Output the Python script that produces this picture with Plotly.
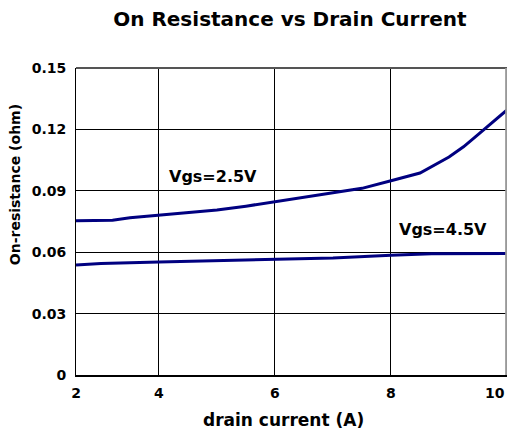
import plotly.graph_objects as go

# axis (the chart's left edge is labelled "2")
x_left = 2.57
x_ticks = [x_left, 4, 6, 8, 10]
x_tick_labels = ["2", "4", "6", "8", "10"]
y_ticks = [0, 0.03, 0.06, 0.09, 0.12, 0.15]
y_tick_labels = ["0", "0.03", "0.06", "0.09", "0.12", "0.15"]

# Vgs = 2.5 V
i_25 = [x_left, 3.2, 3.5, 4.0, 4.5, 5.0, 5.5, 6.0, 6.5, 7.0, 7.5, 8.0, 8.5, 9.0, 9.25, 9.5, 9.75, 10.0]
r_25 = [0.0754, 0.0756, 0.0768, 0.0780, 0.0792, 0.0806, 0.0825, 0.0847, 0.0866, 0.0889, 0.0912, 0.0949, 0.0987, 0.1065, 0.1115, 0.1175, 0.1235, 0.1295]

# Vgs = 4.5 V
i_45 = [x_left, 3.0, 4.0, 5.0, 6.0, 7.0, 8.0, 8.7, 10.0]
r_45 = [0.0537, 0.0545, 0.0552, 0.0558, 0.0565, 0.0572, 0.0585, 0.0592, 0.0594]

labels = ["Vgs=2.5V", "Vgs=4.5V"]
label_x = [4.93, 8.9]
label_y = [0.0972, 0.0711]

NAVY = "#000080"
FONT = "DejaVu Sans"
TICKFONT = dict(family=FONT, size=14, color="black")

fig = go.Figure()
fig.add_trace(go.Scatter(x=i_25, y=r_25, mode="lines", line=dict(color=NAVY, width=3), showlegend=False))
fig.add_trace(go.Scatter(x=i_45, y=r_45, mode="lines", line=dict(color=NAVY, width=3), showlegend=False))

for t, lx, ly in zip(labels, label_x, label_y):
    fig.add_annotation(x=lx, y=ly, text="<b>" + t + "</b>", showarrow=False,
                       font=dict(family=FONT, size=16, color="black"))

# axis titles
fig.add_annotation(xref="paper", yref="paper", x=-0.141, y=0.619, text="<b>On-resistance (ohm)</b>",
                   showarrow=False, textangle=-90, font=dict(family=FONT, size=14, color="black"),
                   xanchor="center", yanchor="middle")
fig.add_annotation(xref="paper", yref="paper", x=0.481, y=0, yshift=-45, text="<b>drain current (A)</b>",
                   showarrow=False, font=dict(family=FONT, size=17, color="black"),
                   xanchor="center", yanchor="middle")

# last x tick label, right-aligned at its tick so it stays inside the window
fig.add_annotation(x=x_ticks[-1], xref="x", y=0, yref="paper", text="<b>" + x_tick_labels[-1] + "</b>",
                   showarrow=False, xanchor="right", yanchor="middle", yshift=-18,
                   font=TICKFONT)

# top/right border (gray)
fig.add_shape(type="line", xref="paper", yref="paper", x0=0, x1=1, y0=1, y1=1,
              line=dict(color="#555555", width=2), layer="above")
fig.add_shape(type="line", xref="paper", yref="paper", x0=0.998, x1=0.998, y0=0, y1=1,
              line=dict(color="#999999", width=2), layer="above")

fig.update_layout(
    width=499, height=423,
    margin=dict(l=68, r=0, t=60, b=56, autoexpand=False),
    paper_bgcolor="white", plot_bgcolor="white",
    title=dict(text="<b>On Resistance vs Drain Current</b>", x=0.565, xanchor="center",
               y=0.974, yanchor="middle", font=dict(family=FONT, size=20, color="black")),
    xaxis=dict(range=[x_left, 10], tickvals=x_ticks,
               ticktext=["<b>" + t + "</b>" for t in x_tick_labels[:-1]] + [""],
               showgrid=True, gridcolor="black", gridwidth=1, zeroline=False,
               showline=True, linecolor="black", linewidth=2, ticks="",
               ticklabelstandoff=4, ticklabeloverflow="allow", automargin=False,
               tickfont=TICKFONT),
    yaxis=dict(range=[0, 0.15], tickvals=y_ticks, ticktext=["<b>" + t + "</b>" for t in y_tick_labels],
               showgrid=True, gridcolor="black", gridwidth=1, zeroline=False,
               showline=True, linecolor="black", linewidth=1, ticks="",
               ticklabelstandoff=6, ticklabeloverflow="allow", automargin=False,
               tickfont=TICKFONT),
)

fig.write_html("out.html")
